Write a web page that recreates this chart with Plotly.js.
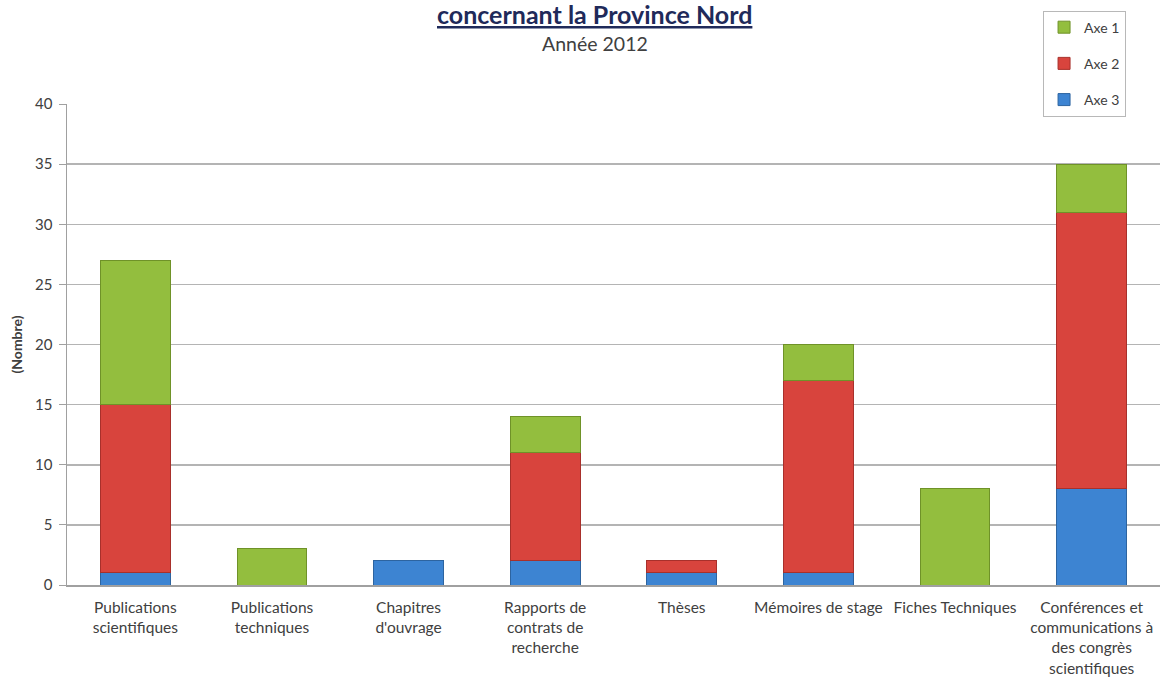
<!DOCTYPE html>
<html>
<head>
<meta charset="utf-8">
<script src="https://cdn.plot.ly/plotly-3.0.1.min.js"></script>
<style>html,body{margin:0;padding:0;background:#fff;}#chart{width:1171px;height:686px;}</style>
</head>
<body>
<div id="chart"></div>
<script>
const categories = [
  "Publications<br>scientifiques",
  "Publications<br>techniques",
  "Chapitres<br>d'ouvrage",
  "Rapports de<br>contrats de<br>recherche",
  "Thèses",
  "Mémoires de stage",
  "Fiches Techniques",
  "Conférences et<br>communications à<br>des congrès<br>scientifiques"
];
const axe3 = [1, 0, 2, 2, 1, 1, 0, 8];
const axe2 = [14, 0, 0, 9, 1, 16, 0, 23];
const axe1 = [12, 3, 0, 3, 0, 3, 8, 4];
const seriesNames = ["Axe 3", "Axe 2", "Axe 1"];
const yTicks = [0, 5, 10, 15, 20, 25, 30, 35, 40];
const titleText = "concernant la Province Nord";
const subtitleText = "Année 2012";
const yTitle = "(Nombre)";

const colors = {"Axe 3": "#3d84d2", "Axe 2": "#d8443d", "Axe 1": "#93be3e"};
const lines = {"Axe 3": "#2d64a0", "Axe 2": "#a8302b", "Axe 1": "#6f9228"};
const ranks = {"Axe 3": 3, "Axe 2": 2, "Axe 1": 1};
const vals = {"Axe 3": axe3, "Axe 2": axe2, "Axe 1": axe1};

const traces = seriesNames.map(n => ({
  type: "bar",
  name: n,
  x: categories,
  y: vals[n].map(v => v === 0 ? null : v),
  legendgroup: n,
  legendrank: ranks[n],
  marker: {color: colors[n], line: {color: lines[n], width: 1}},
  hoverinfo: "skip"
}));

const PT = 101, PH = 484;
const py = p => 1 + (PT - p) / PH;

const layout = {
  width: 1171, height: 686,
  margin: {l: 67, r: 11, t: 101, b: 101},
  paper_bgcolor: "#ffffff",
  plot_bgcolor: "#ffffff",
  barmode: "stack",
  bargap: 0.49,
  font: {family: "Lato, 'Open Sans', sans-serif", color: "#404040"},
  showlegend: true,
  legend: {
    x: 0.893, xanchor: "left", y: py(7), yanchor: "top",
    traceorder: "grouped",
    tracegroupgap: 15,
    bgcolor: "#ffffff", bordercolor: "#b8b8b8", borderwidth: 1,
    font: {size: 14, color: "#404040"},
    itemwidth: 30
  },
  xaxis: {
    type: "category",
    showline: true, linecolor: "#a0a0a0", linewidth: 1.5,
    ticks: "", tickfont: {size: 15.5, color: "#404040"},
    ticklabelstandoff: 8,
    showgrid: false
  },
  yaxis: {
    range: [0, 40],
    tickvals: yTicks,
    showline: true, linecolor: "#a0a0a0", linewidth: 1.5,
    ticks: "outside", ticklen: 7, tickcolor: "#a0a0a0",
    ticklabelstandoff: 3,
    gridcolor: "#b4b4b4", gridwidth: 1.5,
    zeroline: false,
    tickfont: {size: 15, color: "#404040"},
    title: {text: "<b>" + yTitle + "</b>", font: {size: 14, color: "#404040"}, standoff: 9}
  },
  annotations: [
    {text: "<b><u>" + titleText + "</u></b>", xref: "paper", yref: "paper",
     x: 0.483, y: py(10), xanchor: "center", yanchor: "middle", showarrow: false,
     font: {size: 25, color: "#1f2a5a"}},
    {text: subtitleText, xref: "paper", yref: "paper",
     x: 0.483, y: py(40), xanchor: "center", yanchor: "middle", showarrow: false,
     font: {size: 19.5, color: "#404040"}}
  ]
};

Plotly.newPlot("chart", traces, layout, {displayModeBar: false, staticPlot: true});
</script>
</body>
</html>
